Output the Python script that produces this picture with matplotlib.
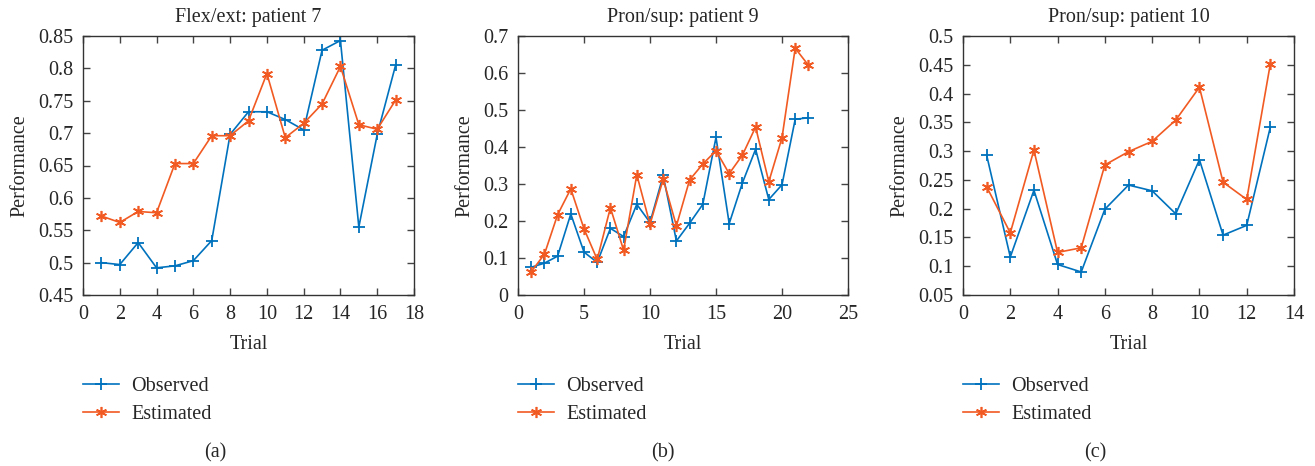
import matplotlib
matplotlib.use("Agg")
import matplotlib.pyplot as plt

plt.rcParams["font.family"] = ["Liberation Serif", "DejaVu Serif"]
plt.rcParams["font.size"] = 14
plt.rcParams["text.color"] = "#262626"
plt.rcParams["axes.labelcolor"] = "#262626"
plt.rcParams["xtick.color"] = "#262626"
plt.rcParams["ytick.color"] = "#262626"

# panel (a) flex/ext patient 7
trial_a = list(range(1, 18))
obs_a = [0.500, 0.497, 0.531, 0.492, 0.495, 0.503, 0.534, 0.698, 0.733, 0.733,
         0.721, 0.705, 0.828, 0.843, 0.555, 0.698, 0.805]
est_a = [0.572, 0.562, 0.579, 0.577, 0.653, 0.653, 0.696, 0.696, 0.719, 0.792,
         0.693, 0.715, 0.745, 0.803, 0.713, 0.706, 0.751]

# panel (b) pron/sup patient 9
trial_b = list(range(1, 23))
obs_b = [0.075, 0.086, 0.105, 0.219, 0.116, 0.088, 0.180, 0.158, 0.245, 0.196,
         0.323, 0.146, 0.194, 0.245, 0.426, 0.193, 0.303, 0.394, 0.258, 0.298,
         0.475, 0.479]
est_b = [0.063, 0.110, 0.217, 0.287, 0.179, 0.096, 0.236, 0.121, 0.325, 0.191,
         0.313, 0.187, 0.311, 0.354, 0.390, 0.328, 0.378, 0.454, 0.306, 0.425,
         0.667, 0.621]

# panel (c) pron/sup patient 10
trial_c = list(range(1, 14))
obs_c = [0.293, 0.116, 0.232, 0.103, 0.090, 0.199, 0.241, 0.231, 0.191, 0.285,
         0.154, 0.171, 0.342]
est_c = [0.238, 0.158, 0.302, 0.124, 0.132, 0.276, 0.299, 0.317, 0.354, 0.411,
         0.246, 0.216, 0.452]

titles = ["Flex/ext: patient 7", "Pron/sup: patient 9", "Pron/sup: patient 10"]
captions = ["(a)", "(b)", "(c)"]

panels = [
    (trial_a, obs_a, est_a, (0, 18), (0.45, 0.85), [0, 2, 4, 6, 8, 10, 12, 14, 16, 18],
     [0.45, 0.5, 0.55, 0.6, 0.65, 0.7, 0.75, 0.8, 0.85]),
    (trial_b, obs_b, est_b, (0, 25), (0, 0.7), [0, 5, 10, 15, 20, 25],
     [0, 0.1, 0.2, 0.3, 0.4, 0.5, 0.6, 0.7]),
    (trial_c, obs_c, est_c, (0, 14), (0.05, 0.5), [0, 2, 4, 6, 8, 10, 12, 14],
     [0.05, 0.1, 0.15, 0.2, 0.25, 0.3, 0.35, 0.4, 0.45, 0.5]),
]

W, H = 1315, 466
fig = plt.figure(figsize=(W / 100, H / 100), dpi=100)

lefts = [83, 518, 963]
widths = [331, 330, 331]
top, bottom = 36, 295
caption_x = [215, 663, 1095]

blue = "#0072BD"
orange = "#F15A22"
asterisk = (6, 2, 0)

for i, (x, obs, est, xl, yl, xt, yt) in enumerate(panels):
    ax = fig.add_axes([lefts[i] / W, 1 - bottom / H, widths[i] / W, (bottom - top) / H])
    ax.plot(x, obs, color=blue, marker="+", markersize=9, lw=1.2, mew=1.3, label="Observed")
    ax.plot(x, est, color=orange, marker=asterisk, markersize=8, lw=1.2, mew=1.2, label="Estimated")
    ax.set_xlim(xl)
    ax.set_ylim(yl)
    ax.set_xticks(xt)
    ax.set_yticks(yt)
    ax.set_xticklabels(["%g" % v for v in xt])
    ax.set_yticklabels(["%g" % v for v in yt])
    ax.tick_params(direction="in", top=True, right=True, length=5, width=1,
                   color="#444444", labelsize=14.5, pad=7)
    for sp in ax.spines.values():
        sp.set_color("#333333")
        sp.set_linewidth(1)
    ax.set_title(titles[i], fontsize=14.5, pad=10)
    ax.set_xlabel("Trial", fontsize=14.5, labelpad=8)
    ax.set_ylabel("Performance", fontsize=14.5, labelpad=6)
    ax.legend(loc="upper left", bbox_to_anchor=(0, -0.315), frameon=False,
              fontsize=14.5, handlelength=1.8, handletextpad=0.6, labelspacing=0.45,
              borderaxespad=0, borderpad=0)
    fig.text(caption_x[i] / W, 1 - 453 / H, captions[i], ha="center", va="center", fontsize=14.5)

fig.savefig("out.png", dpi=100)
